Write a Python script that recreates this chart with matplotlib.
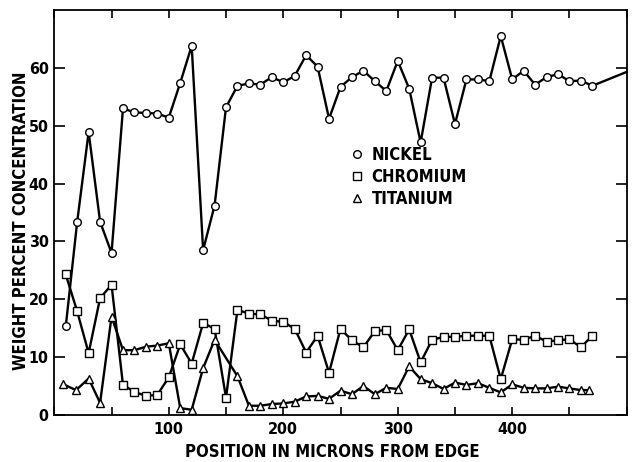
import matplotlib
matplotlib.use("Agg")
import matplotlib.pyplot as plt
from matplotlib.lines import Line2D

# ---- data ----
nickel_x = [10, 20, 30, 40, 50, 60, 70, 80, 90, 100, 110, 120, 130, 140, 150,
            160, 170, 180, 190, 200, 210, 220, 230, 240, 250, 260, 270, 280, 290,
            300, 310, 320, 330, 340, 350, 360, 370, 380, 390, 400, 410, 420, 430,
            440, 450, 460, 470]
nickel_y = [15.3, 33.4, 48.9, 33.4, 28.0, 53.0, 52.3, 52.2, 52.1, 51.4, 57.4, 63.8,
            28.5, 36.2, 53.2, 56.9, 57.3, 57.1, 58.4, 57.5, 58.6, 62.2, 60.2, 51.2,
            56.7, 58.4, 59.5, 57.7, 56.0, 61.2, 56.4, 47.1, 58.3, 58.3, 50.3, 58.0,
            58.0, 57.7, 65.5, 58.0, 59.5, 57.1, 58.4, 58.9, 57.7, 57.8, 56.9]
nickel_tail_x = [470, 500]
nickel_tail_y = [56.9, 59.3]

chromium_x = [10, 20, 30, 40, 50, 60, 70, 80, 90, 100, 110, 120, 130, 140, 150,
              160, 170, 180, 190, 200, 210, 220, 230, 240, 250, 260, 270, 280, 290,
              300, 310, 320, 330, 340, 350, 360, 370, 380, 390, 400, 410, 420, 430,
              440, 450, 460, 470]
chromium_y = [24.3, 17.9, 10.7, 20.2, 22.5, 5.2, 4.0, 3.3, 3.5, 6.5, 12.2, 8.9,
              15.9, 14.9, 3.0, 18.2, 17.5, 17.4, 16.3, 16.1, 14.9, 10.8, 13.7, 7.3,
              14.9, 12.9, 11.7, 14.5, 14.7, 11.2, 14.8, 9.1, 13.0, 13.5, 13.5, 13.7,
              13.7, 13.7, 6.2, 13.1, 13.0, 13.7, 12.7, 12.9, 13.1, 11.7, 13.7]

titanium_x = [8, 19, 30, 40, 50, 60, 70, 80, 90, 100, 110, 120, 130, 140, 160,
              170, 180, 190, 200, 210, 220, 230, 240, 250, 260, 270, 280, 290, 300,
              310, 320, 330, 340, 350, 360, 370, 380, 390, 400, 410, 420, 430, 440,
              450, 460, 467]
titanium_y = [5.3, 4.3, 6.3, 2.1, 17.0, 11.2, 11.2, 11.8, 12.0, 12.4, 1.2, 0.9,
              8.1, 13.0, 6.7, 1.6, 1.6, 1.9, 2.0, 2.3, 3.2, 3.3, 2.8, 4.2, 3.6, 5.0,
              3.6, 4.7, 4.5, 8.4, 6.2, 5.5, 4.5, 5.6, 5.2, 5.5, 4.7, 3.9, 5.3, 4.7,
              4.6, 4.6, 4.9, 4.6, 4.3, 4.3]

series_labels = ["NICKEL", "CHROMIUM", "TITANIUM"]
x_tick_labels = ["", "", "100", "", "200", "", "300", "", "400", "", ""]
y_tick_labels = ["0", "10", "20", "30", "40", "50", "60"]
x_label = "POSITION IN MICRONS FROM EDGE"
y_label = "WEIGHT PERCENT CONCENTRATION"

# ---- style ----
plt.rcParams['font.family'] = ['DejaVu Sans']
plt.rcParams['font.stretch'] = 'condensed'
plt.rcParams['font.weight'] = 'bold'

fig = plt.figure(figsize=(6.37, 4.62), dpi=100)
ax = fig.add_axes([54.3 / 637, 1 - 415 / 462, (626.7 - 54.3) / 637, (415 - 10) / 462])

lw = 1.7
ms = 5.5
mkw = dict(mfc='white', mec='black', mew=1.0, color='black', lw=lw)
ax.plot(nickel_tail_x, nickel_tail_y, color='black', lw=lw, clip_on=False)
ax.plot(chromium_x, chromium_y, marker='s', ms=ms, **mkw)
ax.plot(titanium_x, titanium_y, marker='^', ms=ms + 0.5, **mkw)
ax.plot(nickel_x, nickel_y, marker='o', ms=ms, **mkw)

ax.set_xlim(0, 500)
ax.set_ylim(0, 70)
ax.set_xticks(list(range(0, 501, 50)))
ax.set_xticklabels(x_tick_labels)
ax.set_yticks(list(range(0, 61, 10)))
ax.set_yticklabels(y_tick_labels)

ax.tick_params(axis='both', which='major', direction='in', top=True, right=True,
               length=6, width=1.2, labelsize=11.5, colors='black', pad=5)
ax.tick_params(axis='y', length=8, pad=4)
for s in ax.spines.values():
    s.set_linewidth(1.3)

ax.set_xlabel(x_label, fontsize=12, fontweight='bold')
ax.xaxis.set_label_coords(0.485, -0.068)
ax.set_ylabel(y_label, fontsize=12, fontweight='bold')
ax.yaxis.set_label_coords(-0.043, 0.48)

handles = [Line2D([], [], marker='o', ls='none', ms=ms, mfc='white', mec='black', mew=1.0),
           Line2D([], [], marker='s', ls='none', ms=ms, mfc='white', mec='black', mew=1.0),
           Line2D([], [], marker='^', ls='none', ms=ms + 0.5, mfc='white', mec='black', mew=1.0)]
ax.legend(handles, series_labels, loc='upper left', bbox_to_anchor=(0.515, 0.665),
          frameon=False, fontsize=12, handlelength=1.0, handletextpad=0.35,
          labelspacing=0.25, borderpad=0, borderaxespad=0)

fig.savefig('out.png', dpi=100)
